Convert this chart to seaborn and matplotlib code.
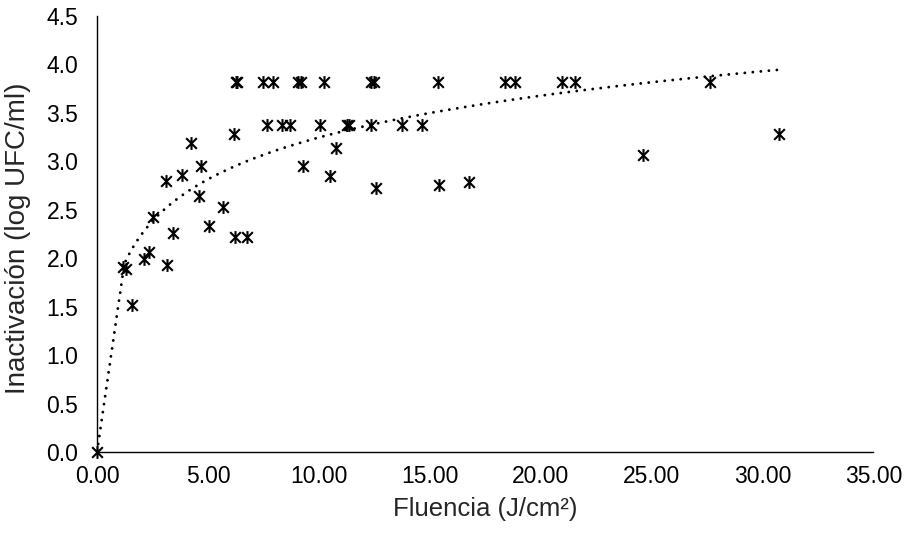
import numpy as np
import pandas as pd
import matplotlib
matplotlib.use("Agg")
import matplotlib.pyplot as plt
from matplotlib.path import Path
import seaborn as sns

# ---- data ----
fluencia = [0.00,
            1.16, 1.31, 1.59, 2.13, 2.36, 3.14, 2.54, 3.44, 3.11, 3.82, 4.24,
            4.68, 4.60, 5.05, 5.70, 6.22, 6.78, 6.17,
            6.25, 6.30, 7.50, 7.92, 9.05, 9.20, 10.24, 12.35, 12.50, 15.36,
            18.40, 18.85, 20.97, 21.56, 27.65,
            7.68, 8.35, 8.72, 10.03, 11.28, 11.36, 12.35, 13.76, 14.66,
            9.30, 10.51, 10.77, 12.58, 15.40, 16.78, 24.60, 30.76]
inactivacion = [0.00,
                1.91, 1.89, 1.52, 1.99, 2.06, 1.93, 2.43, 2.26, 2.80, 2.86, 3.19,
                2.95, 2.64, 2.33, 2.53, 2.22, 2.22, 3.28,
                3.82, 3.82, 3.82, 3.82, 3.82, 3.82, 3.82, 3.82, 3.82, 3.82,
                3.82, 3.82, 3.82, 3.82, 3.82,
                3.38, 3.38, 3.38, 3.38, 3.38, 3.38, 3.38, 3.38, 3.38,
                2.95, 2.85, 3.14, 2.72, 2.76, 2.79, 3.07, 3.28]
x_ticks = [0, 5, 10, 15, 20, 25, 30, 35]
y_ticks = [0.0, 0.5, 1.0, 1.5, 2.0, 2.5, 3.0, 3.5, 4.0, 4.5]
x_label = "Fluencia (J/cm²)"
y_label = "Inactivación (log UFC/ml)"

df = pd.DataFrame({"x": fluencia, "y": inactivacion})

# logarithmic trendline fitted from the data (x > 0)
pos = df[df.x > 0]
a, b = np.polyfit(np.log(pos.x), pos.y, 1)
xmax = df.x.max()
x1 = xmax / 25
xs = np.concatenate([[0.0], np.linspace(x1, xmax, 300)])
ys = np.zeros_like(xs)
ys[1:] = np.maximum(a * np.log(xs[1:]) + b, 0)
trend = pd.DataFrame({"x": xs, "y": ys})

# ---- style ----
sns.set_theme(style="white")
plt.rcParams["font.family"] = ["Liberation Sans", "DejaVu Sans"]

fig = plt.figure(figsize=(9.07, 5.33), dpi=100)
ax = fig.add_axes([0.107, 0.152, 0.856, 0.818])

sns.lineplot(data=trend, x="x", y="y", ax=ax, color="black", lw=2.1,
             sort=False, estimator=None, dashes=False)
line = ax.lines[-1]
line.set_linestyle((0, (0.01, 2.75)))
line.set_dash_capstyle("round")

star = Path([(-1, -1), (1, 1), (-1, 1), (1, -1), (0, -1.2), (0, 1.2)],
            [Path.MOVETO, Path.LINETO, Path.MOVETO, Path.LINETO,
             Path.MOVETO, Path.LINETO])
sns.scatterplot(data=df, x="x", y="y", ax=ax, marker=star, s=85,
                color="black", edgecolor="black", linewidth=1.5,
                clip_on=False, zorder=5)

ax.set_xlim(0, 35)
ax.set_ylim(0, 4.5)
ax.set_xticks(x_ticks)
ax.set_yticks(y_ticks)
ax.set_xticklabels([f"{v:.2f}" for v in x_ticks])
ax.set_yticklabels([f"{v:.1f}" for v in y_ticks])
ax.tick_params(axis="both", length=0, labelsize=16.5, colors="#000000")
ax.tick_params(axis="x", pad=9.5)
ax.tick_params(axis="y", pad=13.5)

for s in ["top", "right"]:
    ax.spines[s].set_visible(False)
for s in ["left", "bottom"]:
    ax.spines[s].set_color("black")
    ax.spines[s].set_linewidth(1.0)

ax.set_xlabel(x_label, fontsize=18.5, labelpad=6)
ax.set_ylabel(y_label, fontsize=20, labelpad=7)
ax.yaxis.set_label_coords(-0.085, 0.49)
ax.grid(False)

fig.savefig("out.png", dpi=100)
